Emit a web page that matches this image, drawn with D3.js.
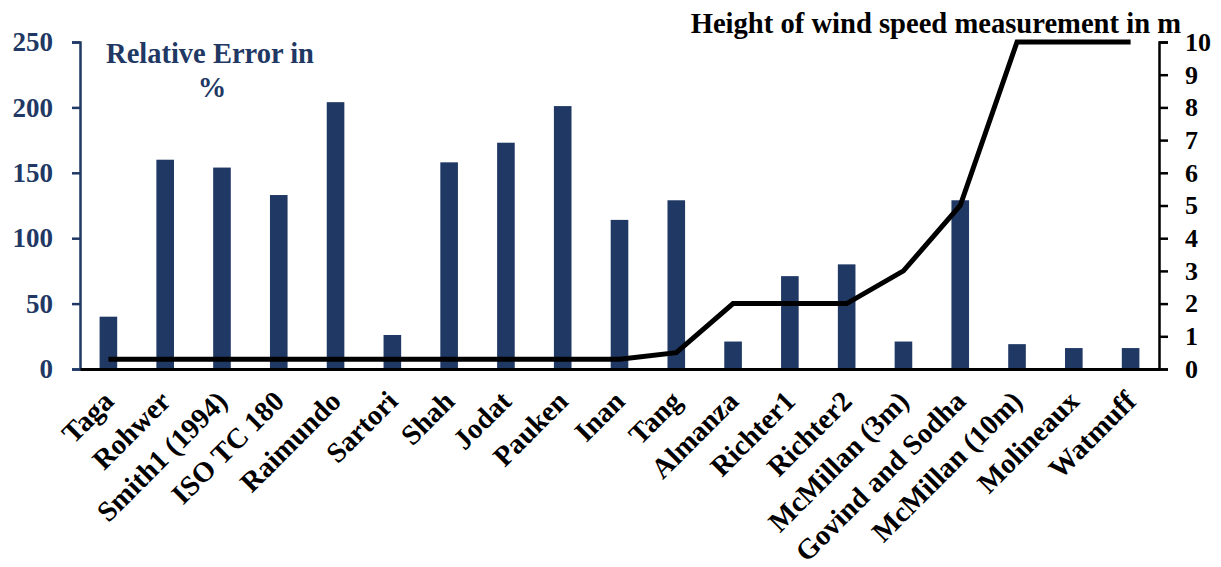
<!DOCTYPE html>
<html>
<head>
<meta charset="utf-8">
<script src="https://cdn.jsdelivr.net/npm/d3@7"></script>
<style>
  body { margin: 0; background: #fff; }
  svg { display: block; font-family: "Liberation Serif", "Times New Roman", serif; font-weight: bold; }
</style>
</head>
<body>
<div id="chart"></div>
<script>
// data
var categories = ["Taga", "Rohwer", "Smith1 (1994)", "ISO TC 180", "Raimundo", "Sartori", "Shah", "Jodat",
    "Pauken", "Inan", "Tang", "Almanza", "Richter1", "Richter2", "McMillan (3m)", "Govind and Sodha",
    "McMillan (10m)", "Molineaux", "Watmuff"];
var relError = [40, 160, 154, 133, 204, 26, 158, 173, 201, 114, 129, 21, 71, 80, 21, 129, 19, 16, 16];
var heightM = [0.3, 0.3, 0.3, 0.3, 0.3, 0.3, 0.3, 0.3, 0.3, 0.3, 0.5, 2, 2, 2, 3, 5, 10, 10, 10];
var leftTicks = [0, 50, 100, 150, 200, 250];
var rightTicks = [0, 1, 2, 3, 4, 5, 6, 7, 8, 9, 10];

var navy = "#1f3864";
var W = 1221, H = 567;
var plotLeft = 80, plotRight = 1159, plotTop = 42, plotBottom = 369;

var svg = d3.select("#chart").append("svg")
    .attr("width", W)
    .attr("height", H);

var x = d3.scaleBand()
    .domain(categories)
    .range([plotLeft, plotRight])
    .paddingInner(0.69)
    .paddingOuter(0.345);

var yL = d3.scaleLinear().domain([0, 250]).range([plotBottom, plotTop]);
var yR = d3.scaleLinear().domain([0, 10]).range([plotBottom, plotTop]);

// bars
svg.append("g").selectAll("rect")
    .data(categories)
    .enter().append("rect")
    .attr("x", function(d) { return x(d); })
    .attr("y", function(d, i) { return yL(relError[i]); })
    .attr("width", x.bandwidth())
    .attr("height", function(d, i) { return plotBottom - yL(relError[i]); })
    .attr("fill", navy);

// left axis
var axL = svg.append("g")
    .attr("transform", "translate(" + plotLeft + ",0)")
    .call(d3.axisLeft(yL).tickValues(leftTicks).tickSize(8).tickPadding(19));
axL.select(".domain").attr("stroke", navy).attr("stroke-width", 2.5);
axL.selectAll(".tick line").attr("stroke", navy).attr("stroke-width", 2.5);
axL.selectAll(".tick text")
    .attr("fill", navy)
    .attr("font-size", 27)
    .attr("font-family", "Liberation Serif, serif")
    .attr("font-weight", "bold");

// right axis
var axR = svg.append("g")
    .attr("transform", "translate(" + plotRight + ",0)")
    .call(d3.axisRight(yR).tickValues(rightTicks).tickSize(9).tickPadding(17));
axR.select(".domain").attr("stroke", "#000").attr("stroke-width", 2.5);
axR.selectAll(".tick line").attr("stroke", "#000").attr("stroke-width", 2.5);
axR.selectAll(".tick text")
    .attr("fill", "#000")
    .attr("font-size", 26)
    .attr("font-family", "Liberation Serif, serif")
    .attr("font-weight", "bold");

// x axis with rotated labels
var axX = svg.append("g")
    .attr("transform", "translate(0," + plotBottom + ")")
    .call(d3.axisBottom(x).tickSize(0));
axX.select(".domain").attr("stroke", "#000").attr("stroke-width", 3);
axX.selectAll(".tick text")
    .attr("x", 0).attr("y", 0).attr("dy", null)
    .attr("text-anchor", "end")
    .attr("transform", "translate(7,34) rotate(-45)")
    .attr("fill", "#000")
    .attr("font-size", 28.5)
    .attr("font-family", "Liberation Serif, serif")
    .attr("font-weight", "bold");

// height line
var line = d3.line()
    .x(function(d, i) { return x(categories[i]) + x.bandwidth() / 2; })
    .y(function(d) { return yR(d); });

svg.append("path")
    .datum(heightM)
    .attr("d", line)
    .attr("fill", "none")
    .attr("stroke", "#000")
    .attr("stroke-width", 5);

// titles
svg.append("text")
    .attr("x", 210).attr("y", 63)
    .attr("text-anchor", "middle")
    .attr("fill", navy)
    .attr("font-size", 28.5)
    .text("Relative Error in");
svg.append("text")
    .attr("x", 212).attr("y", 97)
    .attr("text-anchor", "middle")
    .attr("fill", navy)
    .attr("font-size", 28.5)
    .text("%");

svg.append("text")
    .attr("x", 1181).attr("y", 33)
    .attr("text-anchor", "end")
    .attr("fill", "#000")
    .attr("font-size", 28.6)
    .text("Height of wind speed measurement in m");
</script>
</body>
</html>
